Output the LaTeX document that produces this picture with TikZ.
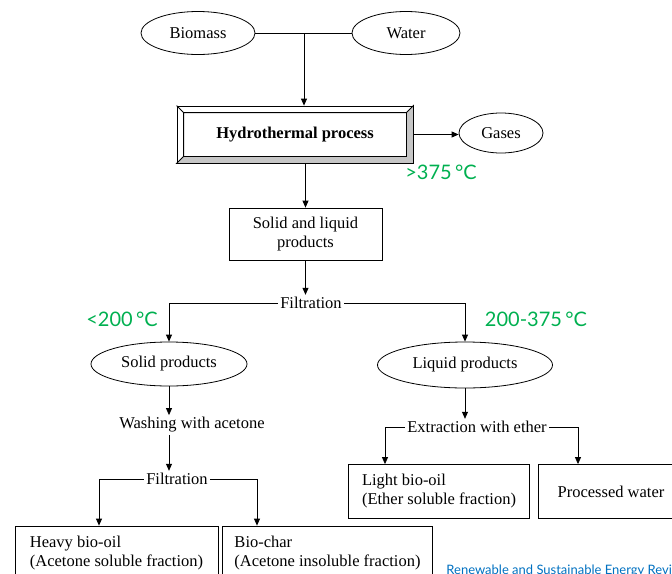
\documentclass[tikz,border=0pt]{standalone}
\usepackage{fontspec}
\setmainfont{Liberation Serif}
\newfontfamily\latofont{Lato}
\usetikzlibrary{arrows.meta,shapes.geometric}
\definecolor{tempgreen}{RGB}{0,176,80}
\definecolor{journalblue}{RGB}{0,112,192}

\begin{document}
\begin{tikzpicture}[x=1pt,y=-1pt,font=\fontsize{16.5}{19}\selectfont,
    line width=0.8pt,>={Triangle[length=7pt,width=6pt]},
    oval/.style={ellipse,draw,inner sep=0pt},
    box/.style={rectangle,draw,inner sep=0pt,minimum height=54},
    temp/.style={text=tempgreen,font=\latofont\fontsize{20}{24}\selectfont}]
    \useasboundingbox (0,0) rectangle (672,573);
    \clip (0,0) rectangle (672,573);
    \begin{scope}[every node/.style={oval}]
        \node[minimum width=114,minimum height=43] (bio) at (198,33) {Biomass};
        \node[minimum width=108,minimum height=43] (wat) at (406,33) {Water};
        \node[minimum width=84,minimum height=40] (gas) at (501,133) {Gases};
        \node[minimum width=156,minimum height=44] (sp) at (169,364) {Solid products};
        \node[minimum width=175,minimum height=46] (lp) at (465,365) {Liquid products};
    \end{scope}
    \node[draw,minimum width=236,minimum height=57] (hp) at (295,134.5) {\textbf{Hydrothermal process}};
    \node[minimum width=222,minimum height=43] (hpin) at (295,134.5) {};
    \filldraw[fill=gray!45] (hp.north east) -- (hp.south east) -- (hp.south west) -- (hpin.south west) -- (hpin.south east) -- (hpin.north east) -- cycle;
    \draw (hp.north west) -- (hpin.north west) -- (hpin.north east) (hpin.north west) -- (hpin.south west);
    \node[box,minimum width=153,minimum height=52,align=center] (slp) at (305.5,234) {Solid and liquid\\products};
    \node[inner sep=2pt] (f1) at (311,303) {Filtration};
    \node[inner sep=2pt] (wash) at (192,425) {Washing with acetone};
    \node[inner sep=2pt] (f2) at (177,479) {Filtration};
    \node[inner sep=2pt] (ext) at (477,427) {Extraction with ether};
    \node[box,minimum width=203,align=left] (heavy) at (116.5,553) {Heavy bio-oil\\(Acetone soluble fraction)};
    \node[box,minimum width=210,align=left] (bchar) at (327.5,553) {Bio-char\\(Acetone insoluble fraction)};
    \node[box,minimum width=181,align=left] (light) at (439,491.5) {Light bio-oil\\(Ether soluble fraction)};
    \node[box,minimum width=146,align=center] (pw) at (611,491.5) {Processed water};
    \node[temp] (t1) at (441,172) {>375\,°C};
    \node[temp] (t2) at (122,319) {<200\,°C};
    \node[temp] (t3) at (536,319) {200-375\,°C};
    \node[anchor=north west,inner sep=0pt,text=journalblue,font=\latofont\fontsize{13}{16}\selectfont] (jr) at (446,565) {Renewable and Sustainable Energy Reviews};
    \coordinate (mix) at (304,33);
    \draw (bio) -- (wat);
    \draw[->] (mix) -- (mix |- hp.north);
    \draw[->] (hp.east) -- (hp.east -| gas.west);
    \draw[->] (slp.north |- hp.south) -- (slp.north);
    \draw[->] (slp.south) -- (slp.south |- f1.north);
    \draw[->] (f1.west) -| (sp.north);
    \draw[->] (f1.east) -| (lp.north);
    \draw[->] (sp.south) -- (sp.south |- wash.north);
    \draw[->] (sp.south |- wash.south) -- (sp.south |- f2.north);
    \draw[->] (f2.west) -| ([xshift=-17.5]heavy.north);
    \draw[->] (f2.east) -| ([xshift=-70.5]bchar.north);
    \draw[->] (lp.south) -- (lp.south |- ext.north);
    \draw[->] (ext.west) -| ([xshift=-54]light.north);
    \draw[->] (ext.east) -| ([xshift=-33]pw.north);
\end{tikzpicture}
\end{document}
